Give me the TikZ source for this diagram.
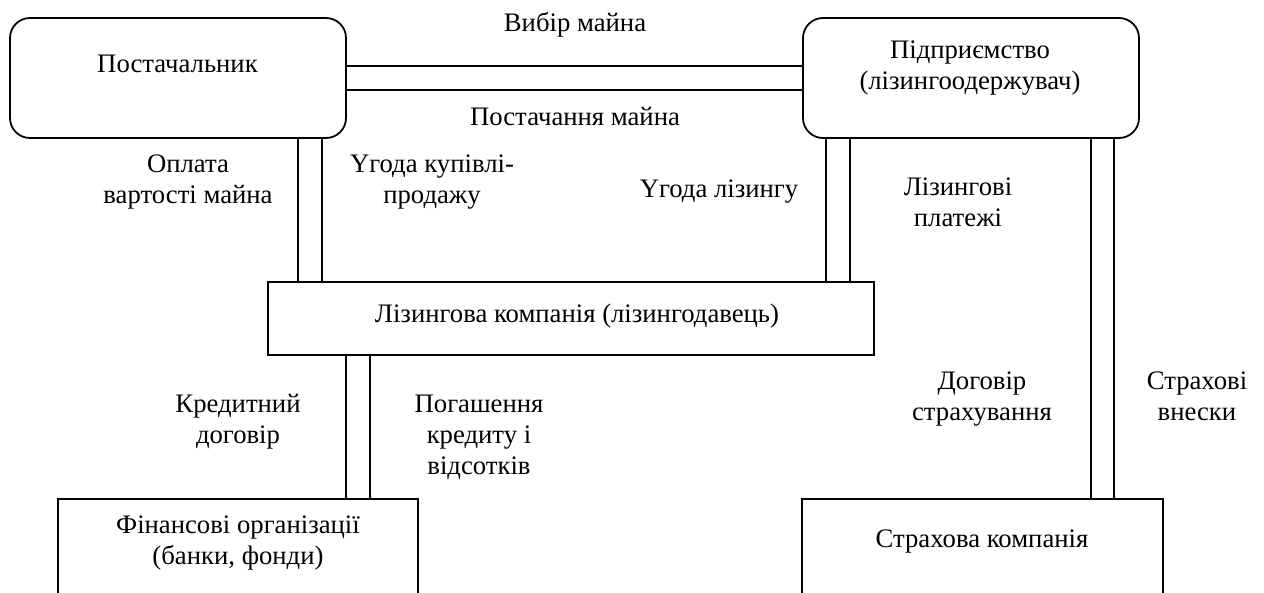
\documentclass[tikz,border=0pt]{standalone}
\usepackage{fontspec}
\setmainfont{Liberation Serif}
\usetikzlibrary{positioning,calc}

\begin{document}
\begin{tikzpicture}[x=0.2mm, y=-0.2mm,
  box/.style={rectangle, draw, line width=1pt, inner sep=0pt},
  rbox/.style={box, rounded corners=4mm},
  txt/.style={align=center, font=\fontsize{15.2}{17.4}\selectfont, inner sep=0pt, anchor=base},
  link/.style={line width=1pt},
  thinlink/.style={line width=0.6pt}
]
\useasboundingbox (0,0) rectangle (1264,592);
% boxes
\node[rbox, minimum width=67.2mm, minimum height=24mm] (sup) at (178,78) {};
\node[rbox, minimum width=67.2mm, minimum height=24mm] (ent) at (971,78) {};
\node[box, minimum width=121.2mm, minimum height=14.6mm] (liz) at (571,318.5) {};
\node[box, minimum width=72mm, minimum height=30mm, anchor=north] (fin) at (238,498) {};
\node[box, minimum width=72.2mm, minimum height=30mm, anchor=north] (ins) at (982.5,498) {};
% box texts (base = last line)
\node[txt] (suptxt) at (177.5,72) {Постачальник};
\node[txt] (enttxt) at (970,89) {Підприємство\\(лізингоодержувач)};
\node[txt] (liztxt) at (577,322) {Лізингова компанія (лізингодавець)};
\node[txt] (fintxt) at (238,564) {Фінансові організації\\(банки, фонди)};
\node[txt] (instxt) at (982,547) {Страхова компанія};
% double links
\draw[link] ([yshift=2.4mm]sup.east) -- ([yshift=2.4mm]ent.west);
\draw[link] ([yshift=-2.4mm]sup.east) -- ([yshift=-2.4mm]ent.west);
\draw[link] ([xshift=24mm]sup.south) -- ([xshift=24mm]sup.south |- liz.north);
\draw[link] ([xshift=28.8mm]sup.south) -- ([xshift=28.8mm]sup.south |- liz.north);
\draw[link] ([xshift=-29mm]ent.south) -- ([xshift=-29mm]ent.south |- liz.north);
\draw[link] ([xshift=-24.2mm]ent.south) -- ([xshift=-24.2mm]ent.south |- liz.north);
\draw[thinlink] ([xshift=24mm]ent.south) -- ([xshift=24mm]ent.south |- ins.north);
\draw[link] ([xshift=28.6mm]ent.south) -- ([xshift=28.6mm]ent.south |- ins.north);
\draw[link] ([xshift=-45mm]liz.south) -- ([xshift=-45mm]liz.south |- fin.north);
\draw[link] ([xshift=-40.2mm]liz.south) -- ([xshift=-40.2mm]liz.south |- fin.north);
% link labels
\node[txt] (choice) at (575,31) {Вибір майна};
\node[txt] (delivery) at (575,125) {Постачання майна};
\node[txt] (payment) at (188,203) {Оплата\\вартості майна};
\node[txt] (sale) at (432,203) {Yгода купівлі-\\продажу};
\node[txt] (lease) at (719,197) {Yгода лізингу};
\node[txt] (leasepay) at (958,226) {Лізингові\\платежі};
\node[txt] (credit) at (238,443) {Кредитний\\договір};
\node[txt] (repay) at (479,474) {Погашення\\кредиту і\\відсотків};
\node[txt] (policy) at (982,420) {Договір\\страхування};
\node[txt] (premium) at (1197,420) {Страхові\\внески};
\end{tikzpicture}
\end{document}
